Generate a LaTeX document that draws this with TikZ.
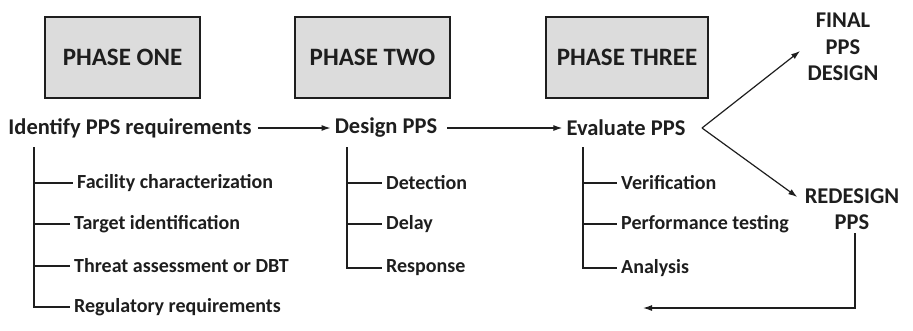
\documentclass[tikz,border=0pt]{standalone}
\usepackage{fontspec}
\setmainfont{Carlito}
\usetikzlibrary{arrows.meta, positioning, calc}

\definecolor{boxgray}{HTML}{DCDCDC}
\definecolor{inkdark}{HTML}{1E1E1E}

\begin{document}
\begin{tikzpicture}[
            x=1pt, y=-1pt,
            phase/.style={draw=inkdark, line width=2pt, fill=boxgray, minimum width=155pt, minimum height=81pt, font=\fontsize{25}{30}\selectfont\bfseries, text=inkdark},
            task/.style={font=\fontsize{22.5}{27}\selectfont\bfseries, text=inkdark, inner sep=4pt},
            item/.style={anchor=west, font=\fontsize{20}{24}\selectfont\bfseries, text=inkdark, inner sep=4pt},
            outcome/.style={align=center, font=\fontsize{22.5}{26.5}\selectfont\bfseries, text=inkdark},
            branch/.style={draw=inkdark, line width=2pt},
            arrow/.style={-{Latex[length=9pt, width=6pt]}, draw=inkdark, line width=1.2pt}
        ]
        \useasboundingbox (0,0) rectangle (913,330);

        % --- phase boxes ---
        \node[phase] (P1) at (122.5, 57.5) {PHASE ONE};
        \node[phase] (P2) at (372.5, 57.5) {PHASE TWO};
        \node[phase, minimum width=162pt] (P3) at (627, 57.5) {PHASE THREE};

        % --- main steps ---
        \node[task] (Id) at (130, 128) {Identify PPS requirements};
        \node[task] (De) at (386, 128) {Design PPS};
        \node[task] (Ev) at (626, 128) {Evaluate PPS};
        \draw[arrow] ([xshift=2pt]Id.east)--(De.west);
        \draw[arrow] ([xshift=6pt]De.east)--(Ev.west);

        % --- outcomes ---
        \node[outcome] (Fin) at (843, 47) {FINAL\\PPS\\DESIGN};
        \node[outcome] (Red) at (852, 209) {REDESIGN\\PPS};
        \coordinate (Fork) at (702, 128);
        \coordinate (Back) at (643, 308);
        \draw[arrow] (Fork)--([xshift=-4pt, yshift=-4pt]Fin.west);
        \draw[arrow] (Fork)--([xshift=-4pt, yshift=12pt]Red.west);
        \draw[arrow] ([xshift=3pt]Red.south)|-(Back);

        % --- phase one items ---
        \coordinate (T1) at (34, 147);
        \node[item] (Fa) at (73, 183) {Facility characterization};
        \node[item] (Ta) at (70, 224) {Target identification};
        \node[item] (Th) at (70, 266) {Threat assessment or DBT};
        \node[item] (Re) at (70, 307) {Regulatory requirements};
        \foreach \n in {Fa, Ta, Th, Re}
            \draw[branch] (T1)|-(\n.west);

        % --- phase two items ---
        \coordinate (T2) at (347, 147);
        \node[item] (Dt) at (382, 183) {Detection};
        \node[item] (Dl) at (382, 224) {Delay};
        \node[item] (Rs) at (382, 268) {Response};
        \foreach \n in {Dt, Dl, Rs}
            \draw[branch] (T2)|-(\n.west);

        % --- phase three items ---
        \coordinate (T3) at (583, 147);
        \node[item] (Vf) at (617, 183) {Verification};
        \node[item] (Pt) at (617, 224) {Performance testing};
        \node[item] (An) at (617, 268) {Analysis};
        \foreach \n in {Vf, Pt, An}
            \draw[branch] (T3)|-(\n.west);

        \end{tikzpicture}
\end{document}
